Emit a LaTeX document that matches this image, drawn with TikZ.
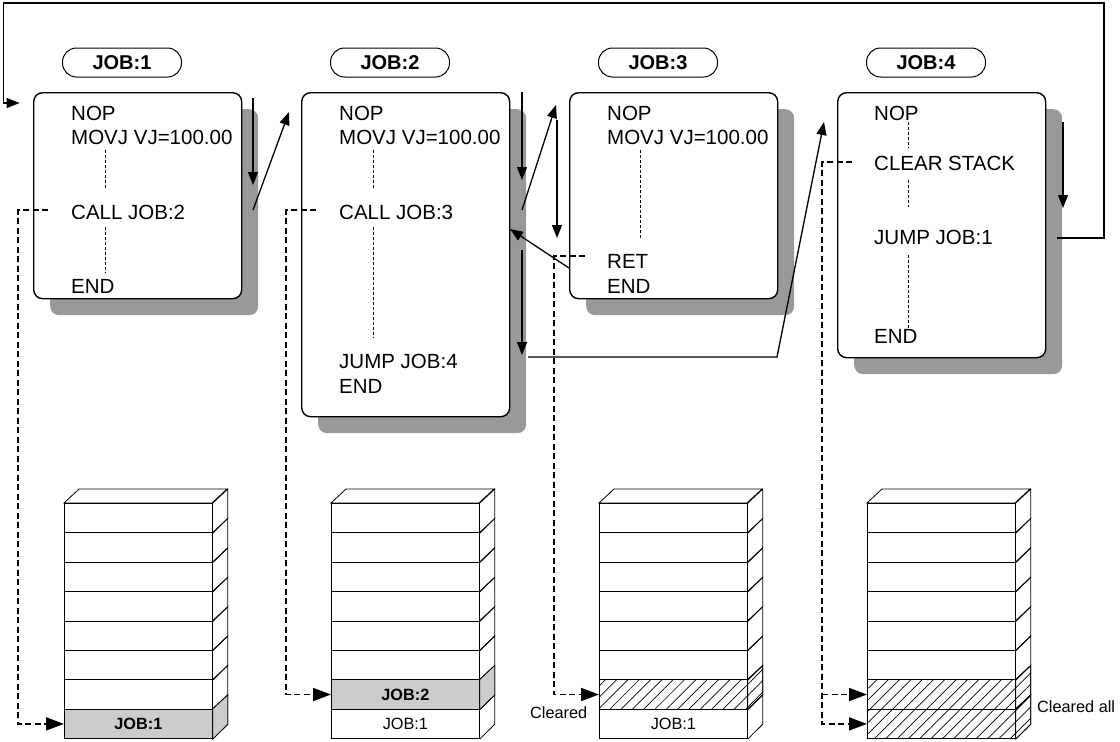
\documentclass[tikz,border=0pt]{standalone}
\usepackage{fontspec}
\setmainfont{Liberation Sans}
\usetikzlibrary{arrows.meta,patterns.meta,positioning}

\begin{document}
\begin{tikzpicture}[x=1pt,y=-1pt,
  jobbox/.style={draw,line width=1.4pt,rounded corners=9pt,fill=white,minimum width=208pt,anchor=north west,inner sep=0pt},
  shadowbox/.style={fill=black!40,rounded corners=9pt,minimum width=208pt,anchor=north west,inner sep=0pt},
  pill/.style={draw,line width=1pt,rounded corners=14pt,minimum width=119pt,minimum height=29pt,inner sep=0pt,font=\fontsize{20}{24}\selectfont\bfseries},
  code/.style={anchor=base west,inner sep=0pt,font=\fontsize{20.5}{24}\selectfont},
  dots/.style={line width=.7pt,dash pattern=on 3pt off 2pt},
  flow/.style={line width=1.3pt,-{Triangle[length=13pt,width=10pt]}},
  ptr/.style={line width=1.8pt,dash pattern=on 6pt off 3.5pt,-{Triangle[length=18pt,width=13pt]}},
  cell/.style={draw,line width=.8pt,minimum width=148pt,minimum height=29.4pt,inner sep=0pt,anchor=north west,font=\fontsize{16.3}{18}\selectfont},
  hatch/.style={pattern={Lines[angle=45,distance=8pt,line width=.7pt]}},
  small/.style={anchor=base west,inner sep=0pt,font=\fontsize{16.3}{18}\selectfont}]

\useasboundingbox (0,0) rectangle (1120,742);

% program boxes
\foreach \i/\x/\h in {1/33/206,2/301/324,3/569/206,4/837/265} {
  \node[shadowbox,minimum height=\h pt] at (\x+17,109) {};
  \node[jobbox,minimum height=\h pt] (job\i) at (\x,92) {};
  \node[pill] (name\i) at (\x+89,62.5) {JOB:\i};
}

\node[code] (nop1) at (71,120) {NOP};
\node[code] (mov1) at (71,144) {MOVJ VJ=100.00};
\node[code] (call1) at (71,219) {CALL JOB:2};
\node[code] (end1) at (71,293) {END};

\node[code] (nop2) at (339,120) {NOP};
\node[code] (mov2) at (339,144) {MOVJ VJ=100.00};
\node[code] (call2) at (339,219) {CALL JOB:3};
\node[code] (jump2) at (339,368) {JUMP JOB:4};
\node[code] (end2) at (339,393) {END};

\node[code] (nop3) at (607,120) {NOP};
\node[code] (mov3) at (607,144) {MOVJ VJ=100.00};
\node[code] (ret3) at (607,268) {RET};
\node[code] (end3) at (607,293) {END};

\node[code] (nop4) at (874,120) {NOP};
\node[code] (clear4) at (874,170) {CLEAR STACK};
\node[code] (jump4) at (874,244) {JUMP JOB:1};
\node[code] (end4) at (874,343) {END};

\draw[dots] (105,150) -- (105,190) (105,227) -- (105,273);
\draw[dots] (373,150) -- (373,190) (373,227) -- (373,338);
\draw[dots] (640,150) -- (640,238);
\draw[dots] (908,122) -- (908,148) (908,180) -- (908,207) (908,255) -- (908,328);

% program flow
\coordinate (run1) at (253,98);
\coordinate (run1e) at (253,185);
\coordinate (go2) at (253,210);
\coordinate (in2) at (289,112);
\coordinate (run2) at (522,92);
\coordinate (run2e) at (522,180);
\coordinate (go3) at (522,210);
\coordinate (in3) at (556,105);
\coordinate (run3) at (557,120);
\coordinate (run3e) at (557,238);
\coordinate (back3) at (569,268);
\coordinate (back2) at (510,229);
\coordinate (run2b) at (522,250);
\coordinate (run2be) at (522,355);
\coordinate (go4) at (528,357);
\coordinate (in4) at (824,122);
\coordinate (run4) at (1063,122);
\coordinate (run4e) at (1063,208);
\coordinate (go1) at (1057,238);
\coordinate (in1) at (19.6,103);

\draw[flow] (run1) -- (run1e);
\draw[flow] (go2) -- (in2);
\draw[flow] (run2) -- (run2e);
\draw[flow] (go3) -- (in3);
\draw[flow] (run3) -- (run3e);
\draw[flow] (back3) -- (back2);
\draw[flow] (run2b) -- (run2be);
\draw[flow] (go4) -- (777,357) -- (in4);
\draw[flow] (run4) -- (run4e);
\draw[flow] (go1) -- (1104,238) -- (1104,3) -- (3.6,3) -- (3.6,103) -- (in1);

% stacks
\foreach \s/\x in {1/64,2/331,3/599,4/867} {
  \draw[line width=.8pt] (\x,503) -- ++(15,-14) -- ++(148,0) -- ++(-15,14) -- cycle;
  \foreach \r in {1,...,8} {
    \node[cell] (s\s-\r) at ({\x},{503+(\r-1)*29.4}) {};
    \draw[line width=.8pt] (s\s-\r.north east) -- ++(15,-14) -- ++(0,29.4) -- (s\s-\r.south east);
  }
}

\node[cell,fill=black!20,font=\fontsize{16.3}{18}\selectfont\bfseries] at (s1-8.north west) {JOB:1};
\filldraw[fill=black!20,line width=.8pt] (s1-8.north east) -- ++(15,-14) -- ++(0,29.4) -- (s1-8.south east) -- cycle;

\node[cell,fill=black!20,font=\fontsize{16.3}{18}\selectfont\bfseries] at (s2-7.north west) {JOB:2};
\filldraw[fill=black!20,line width=.8pt] (s2-7.north east) -- ++(15,-14) -- ++(0,29.4) -- (s2-7.south east) -- cycle;
\node[cell] at (s2-8.north west) {JOB:1};

\node[cell,hatch] at (s3-7.north west) {};
\draw[hatch,line width=.8pt] (s3-7.north east) -- ++(15,-14) -- ++(0,29.4) -- (s3-7.south east) -- cycle;
\node[cell] at (s3-8.north west) {JOB:1};

\node[cell,hatch] at (s4-7.north west) {};
\draw[hatch,line width=.8pt] (s4-7.north east) -- ++(15,-14) -- ++(0,29.4) -- (s4-7.south east) -- cycle;
\node[cell,hatch] at (s4-8.north west) {};
\draw[hatch,line width=.8pt] (s4-8.north east) -- ++(15,-14) -- ++(0,29.4) -- (s4-8.south east) -- cycle;

\node[small] (cleared) at (530,718) {Cleared};
\node[small] (clearedall) at (1037,712) {Cleared all};

% stack pointers
\coordinate (p1) at (48,210);
\coordinate (p2) at (316,210);
\coordinate (p3) at (585,256);
\coordinate (p4) at (852,162);
\draw[ptr] (p1) -- ++(-30,0) |- (s1-8.west);
\draw[ptr] (p2) -- ++(-30,0) |- (s2-7.west);
\draw[ptr] (p3) -- ++(-31,0) |- (s3-7.west);
\draw[ptr] (p4) -- ++(-30,0) coordinate (p4b) |- (s4-8.west);
\draw[ptr] (p4b |- s4-7.west) -- (s4-7.west);
\end{tikzpicture}
\end{document}
